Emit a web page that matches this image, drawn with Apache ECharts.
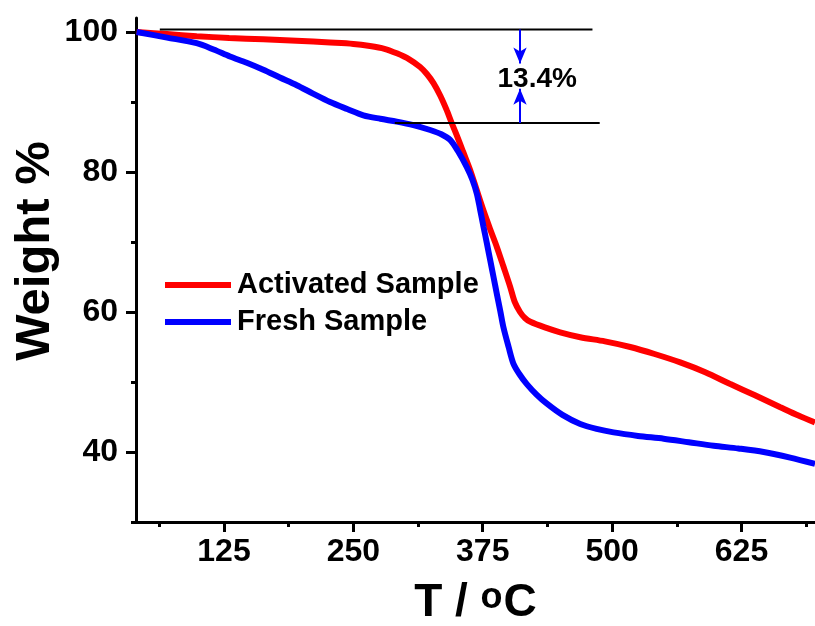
<!DOCTYPE html>
<html>
<head>
<meta charset="utf-8">
<script src="https://cdn.jsdelivr.net/npm/echarts@6/dist/echarts.min.js"></script>
<style>
html,body{margin:0;padding:0;background:#fff;}
#chart{width:815px;height:626px;}
</style>
</head>
<body>
<div id="chart"></div>
<script>
// ---- data ----
var activatedName = 'Activated Sample';
var freshName = 'Fresh Sample';
var activated = [[40.6,100],[70,99.7],[98.6,99.4],[130,99.15],[163,98.95],[195,98.75],[227.5,98.5],[250,98.3],[266,98.0],[280,97.6],[292,96.95],[304,96.1],[314.5,95.0],[321,94.0],[327.4,92.7],[334,90.9],[340.3,88.8],[345,87.0],[350,85.2],[356,82.9],[362.8,80.3],[369,77.5],[375.7,74.5],[382,71.9],[388.6,69.3],[395,66.5],[401.5,63.6],[406,61.4],[411,60.0],[416,59.1],[421,58.6],[435,57.8],[449.8,57.1],[469.2,56.4],[493,55.8],[517.5,55.0],[541,54.0],[565.8,52.8],[590,51.4],[614.2,49.7],[638,48.1],[662.5,46.4],[680,45.2],[696,44.2]];
var fresh = [[40.6,100],[70,99.2],[98.6,98.4],[115,97.5],[130.8,96.5],[147,95.6],[163,94.6],[179,93.5],[195.3,92.4],[211,91.2],[227.5,90.0],[244,89.0],[259.7,88.1],[276,87.6],[292,87.2],[308,86.7],[324.2,86.0],[335,85.4],[343.5,84.6],[351,83.0],[359.6,80.7],[365,78.9],[369.3,76.9],[372.5,74.6],[375.7,72.2],[379,69.8],[382.2,67.4],[385.4,65.0],[388.6,62.6],[392,60.1],[395,57.8],[400,55.0],[404.7,52.6],[411,51.0],[417.6,49.7],[427,48.2],[437,46.9],[452,45.3],[469.2,44.0],[485,43.3],[501.4,42.8],[525,42.3],[549.8,41.9],[574,41.4],[598.1,40.9],[622,40.5],[646.4,40.0],[672,39.2],[696,38.3]];
var upperLine = [[63,100.35],[481,100.35]];
var lowerLine = [[290,87.0],[488,87.0]];
var arrowX = 411;
var arrowDown = [100.35, 95.5];
var arrowUp = [87.0, 91.9];
var lossLabel = '13.4%';
var lossLabelPos = [427.6, 93.3];
var xMajor = [125,250,375,500,625];
var xMinor = [62.5,187.5,312.5,437.5,562.5,687.5];
var yMajor = [40,60,80,100];
var yMinor = [30,50,70,90];

var FONT = '"Liberation Sans", Arial, sans-serif';
var chart = echarts.init(document.getElementById('chart'));
function baseX(idx, ticks, len, labels){
  return {
    type:'value', min:40, max:696, gridIndex:0, position:'bottom',
    axisLine:{show: idx===0, onZero:false, lineStyle:{color:'#000', width:3}},
    axisTick:{show:true, inside:false, length:len, customValues:ticks, lineStyle:{color:'#000', width:3}},
    axisLabel:{show:labels, customValues: labels?xMajor:undefined, margin:14, color:'#000', fontSize:32, fontWeight:'bold', fontFamily:FONT},
    splitLine:{show:false}
  };
}
function baseY(idx, ticks, len, labels){
  return {
    type:'value', min:30, max:102, gridIndex:0, position:'left',
    axisLine:{show: idx===0, onZero:false, lineStyle:{color:'#000', width:3}},
    axisTick:{show:true, inside:false, length:len, customValues:ticks, lineStyle:{color:'#000', width:3}},
    axisLabel:{show:labels, customValues: labels?yMajor:undefined, margin:18, color:'#000', fontSize:32, fontWeight:'bold', fontFamily:FONT},
    splitLine:{show:false}
  };
}
var x0 = baseX(0, xMajor, 10, true);
x0.name = 'T / {sup|o}C';
x0.nameLocation = 'middle';
x0.nameGap = 58;
x0.nameMoveOverlap = false;
x0.nameTextStyle = {color:'#000', fontSize:46, fontWeight:'bold', fontFamily:FONT, lineHeight:46,
  rich:{sup:{fontSize:36, fontWeight:'bold', fontFamily:FONT, color:'#000', lineHeight:46, verticalAlign:'top', padding:[0,1,18,0]}}};
var x1 = baseX(1, xMinor, 5, false);
var y0 = baseY(0, yMajor, 10, true);
y0.name = 'Weight %';
y0.nameLocation = 'middle';
y0.nameGap = 76;
y0.nameMoveOverlap = false;
y0.nameTextStyle = {color:'#000', fontSize:49, fontWeight:'bold', fontFamily:FONT, padding:[0,0,0,38]};
var y1 = baseY(1, yMinor, 5, false);

var option = {
  animation:false,
  backgroundColor:'#fff',
  grid:{left:136, right:0, top:18, bottom:104, containLabel:false, outerBoundsMode:'none'},
  xAxis:[x0, x1],
  yAxis:[y0, y1],
  legend:{
    data:[activatedName, freshName],
    orient:'vertical', left:165, top:270, itemGap:7, padding:0,
    itemWidth:66, itemHeight:6, icon:'rect',
    textStyle:{color:'#000', fontSize:29, fontWeight:'bold', fontFamily:FONT, lineHeight:30, padding:[0,0,0,1]}
  },
  series:[
    {name:activatedName, type:'line', data:activated, showSymbol:false, smooth:0.3,
     lineStyle:{color:'#ff0000', width:6}, itemStyle:{color:'#ff0000'}, z:2},
    {name:freshName, type:'line', data:fresh, showSymbol:false, smooth:0.3,
     lineStyle:{color:'#0000ff', width:6}, itemStyle:{color:'#0000ff'}, z:3},
    {name:'upper', type:'line', data:upperLine, showSymbol:false, lineStyle:{color:'#000', width:2}, z:4, silent:true},
    {name:'lower', type:'line', data:lowerLine, showSymbol:false, lineStyle:{color:'#000', width:2}, z:4, silent:true,
     markLine:{silent:true, symbol:['none','arrow'], symbolSize:[10,16], label:{show:false},
       lineStyle:{color:'#0000ff', width:2, type:'solid'},
       data:[
         [{coord:[arrowX, arrowDown[0]]},{coord:[arrowX, arrowDown[1]]}],
         [{coord:[arrowX, arrowUp[0]]},{coord:[arrowX, arrowUp[1]]}]
       ]}},
    {name:'label', type:'scatter', data:[lossLabelPos], symbolSize:0, z:5, silent:true,
     itemStyle:{opacity:1},
     label:{show:true, position:'inside', formatter:lossLabel, color:'#000', opacity:1, fontSize:28, fontWeight:'bold', fontFamily:FONT}}
  ]
};
chart.setOption(option);
</script>
</body>
</html>
